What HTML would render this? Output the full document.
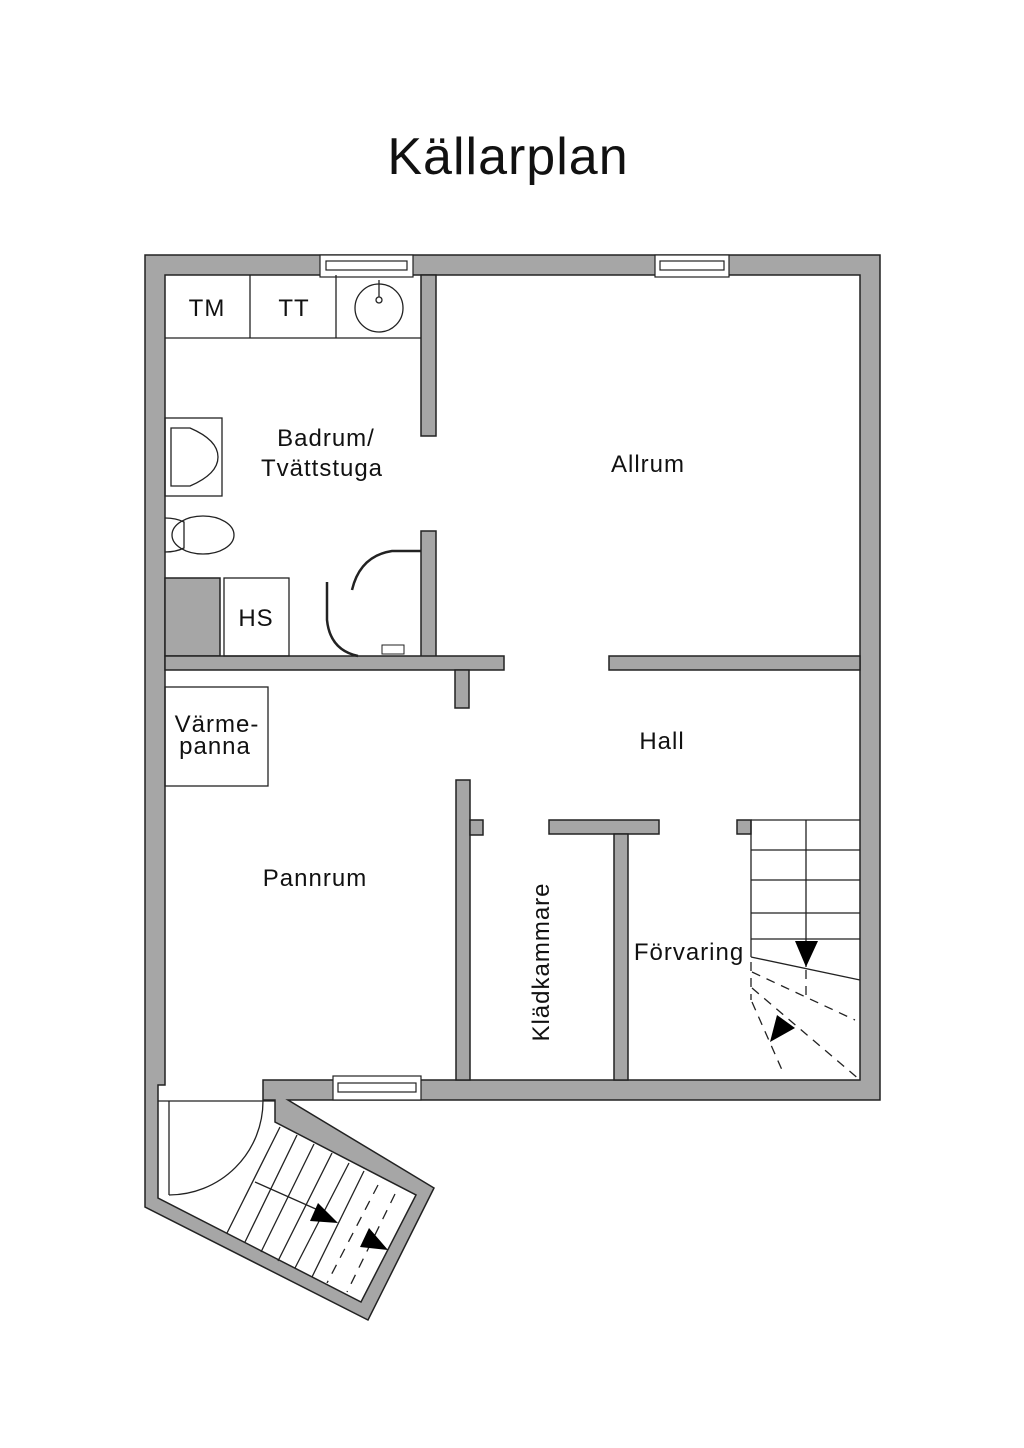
<!DOCTYPE html>
<html><head><meta charset="utf-8"><style>
html,body{margin:0;padding:0;background:#fff;}
svg{display:block}
text{font-family:"Liberation Sans",sans-serif;fill:#111}
</style></head><body>
<svg width="1024" height="1448" viewBox="0 0 1024 1448" xmlns="http://www.w3.org/2000/svg">
<text x="508" y="174" font-size="52" text-anchor="middle" letter-spacing="1">Källarplan</text>
<g stroke="#222" stroke-width="1.5">
<polygon points="145,255 880,255 880,1100 288,1100 434,1188 368,1320 145,1207" fill="#a6a6a6"/>
<polygon points="165,275 860,275 860,1080 263,1080 263,1100 275,1100 275,1122 416,1195 361,1302 158,1198 158,1085 165,1085" fill="#fff"/>
<g fill="#a6a6a6">
<rect x="421" y="275" width="15" height="161"/>
<rect x="421" y="531" width="15" height="127"/>
<rect x="165" y="578" width="55" height="78"/>
<rect x="165" y="656" width="339" height="14"/>
<rect x="609" y="656" width="251" height="14"/>
<rect x="455" y="670" width="14" height="38"/>
<rect x="456" y="780" width="14" height="300"/>
<rect x="470" y="820" width="13" height="15"/>
<rect x="549" y="820" width="110" height="14"/>
<rect x="614" y="834" width="14" height="246"/>
<rect x="737" y="820" width="14" height="14"/>
</g>
</g>
<g fill="#fff" stroke="#222" stroke-width="1.2">
<rect x="320" y="255" width="93" height="22"/><rect x="326" y="261" width="81" height="9"/>
<rect x="655" y="255" width="74" height="22"/><rect x="660" y="261" width="64" height="9"/>
<rect x="333" y="1076" width="88" height="24"/><rect x="338" y="1083" width="78" height="9"/>
</g>
<g fill="none" stroke="#222" stroke-width="1.3">
<line x1="165" y1="338" x2="421" y2="338"/>
<line x1="250" y1="275" x2="250" y2="338"/>
<line x1="336" y1="275" x2="336" y2="338"/>
<circle cx="379" cy="308" r="24"/><circle cx="379" cy="300" r="3"/>
<line x1="379" y1="280" x2="379" y2="297"/>
<rect x="165" y="418" width="57" height="78"/>
<path d="M171,428 L190,428 Q218,440 218,457 Q218,474 190,486 L171,486 Z"/>
<ellipse cx="203" cy="535" rx="31" ry="19"/>
<path d="M165,518 Q176,518 184,522 L184,548 Q176,552 165,552"/>
<rect x="224" y="578" width="65" height="78"/>
<path d="M421,551 L392,551 Q360,556 352,590" stroke-width="2.5"/>
<path d="M327,582 L327,620 Q330,650 358,656" stroke-width="2.5"/>
<rect x="382" y="645" width="22" height="9" stroke-width="1"/>
<rect x="165" y="687" width="103" height="99"/>
<line x1="158" y1="1101" x2="275" y2="1101"/>
<line x1="169" y1="1101" x2="169" y2="1195"/>
<path d="M169,1195 A94,94 0 0 0 263,1101"/>
<line x1="280" y1="1127" x2="227" y2="1233"/>
<line x1="297" y1="1135" x2="245" y2="1242"/>
<line x1="314" y1="1144" x2="261" y2="1252"/>
<line x1="332" y1="1153" x2="278" y2="1261"/>
<line x1="349" y1="1163" x2="295" y2="1268"/>
<line x1="364" y1="1171" x2="312" y2="1277"/>
<line x1="255" y1="1182" x2="318" y2="1210"/>
<g stroke-dasharray="10,8">
<line x1="378" y1="1185" x2="327" y2="1283"/>
<line x1="395" y1="1194" x2="347" y2="1292"/>
</g>
<line x1="751" y1="820" x2="860" y2="820"/>
<line x1="751" y1="820" x2="751" y2="957"/>
<line x1="751" y1="850" x2="860" y2="850"/>
<line x1="751" y1="880" x2="860" y2="880"/>
<line x1="751" y1="913" x2="860" y2="913"/>
<line x1="751" y1="939" x2="860" y2="939"/>
<line x1="806" y1="820" x2="806" y2="967"/>
<line x1="751" y1="957" x2="860" y2="980"/>
<g stroke-dasharray="9,7">
<line x1="751" y1="962" x2="751" y2="1000"/>
<line x1="752" y1="972" x2="855" y2="1020"/>
<line x1="752" y1="988" x2="860" y2="1080"/>
<line x1="752" y1="1002" x2="782" y2="1070"/>
<line x1="806" y1="970" x2="806" y2="995"/>
</g>
</g>
<g fill="#000">
<polygon points="338,1223 318,1203 310,1221"/>
<polygon points="388,1250 369,1228 360,1247"/>
<polygon points="806,967 795,941 818,941"/>
<polygon points="770,1042 777,1015 795,1028"/>
</g>
<g font-size="24" letter-spacing="1">
<text x="207" y="316" text-anchor="middle">TM</text>
<text x="294" y="316" text-anchor="middle">TT</text>
<text x="326" y="446" text-anchor="middle">Badrum/</text>
<text x="322" y="476" text-anchor="middle">Tvättstuga</text>
<text x="648" y="472" text-anchor="middle">Allrum</text>
<text x="256" y="626" text-anchor="middle">HS</text>
<text x="217" y="732" text-anchor="middle">Värme-</text>
<text x="215" y="754" text-anchor="middle">panna</text>
<text x="662" y="749" text-anchor="middle">Hall</text>
<text x="315" y="886" text-anchor="middle">Pannrum</text>
<text x="689" y="960" text-anchor="middle">Förvaring</text>
<text transform="translate(549,962) rotate(-90)" text-anchor="middle">Klädkammare</text>
</g>
</svg>
</body></html>
